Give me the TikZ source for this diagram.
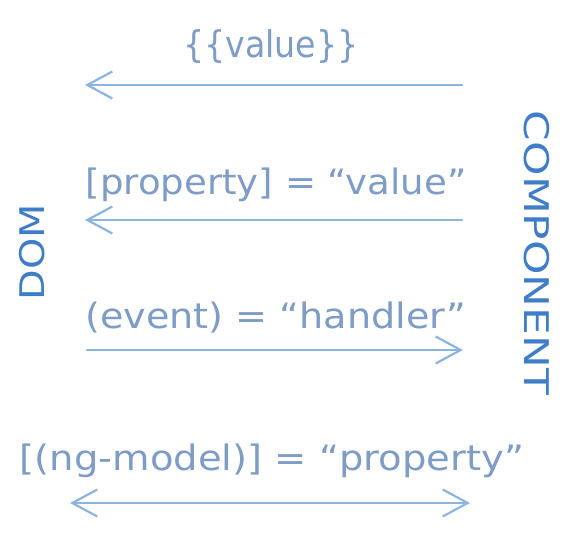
\documentclass[tikz,border=0pt]{standalone}
\usepackage{fontspec}
\setmainfont{DejaVu Sans}
\usetikzlibrary{arrows.meta}
\definecolor{txtblue}{HTML}{7E9CC6}
\definecolor{arrblue}{HTML}{8DB4E0}
\definecolor{lblblue}{HTML}{3F7DC8}
\tikzset{
  lbl/.style={text=txtblue, inner sep=0pt, font=\fontsize{35}{40}\selectfont},
  side/.style={text=lblblue, inner sep=0pt, font=\fontsize{34}{40}\selectfont},
  conn/.style={draw=arrblue, line width=2.2pt, line cap=round},
  barb/.tip={Straight Barb[length=25pt,width=27pt,line width=2.2pt]}
}
\begin{document}
\begin{tikzpicture}[x=1pt,y=-1pt]
\useasboundingbox[fill=white] (0,0) rectangle (563,533);
\node[lbl] (t1) at (271,47) {\scalebox{0.95}[1.05]{\{\{value\}\}}};
\node[lbl] (t2) at (276,185) {\scalebox{1.06}[1]{[property] = “value”}};
\node[lbl] (t3) at (276,318) {\scalebox{1.09}[1]{(event) = “handler”}};
\node[lbl] (t4) at (272,461) {\scalebox{1.10}[1]{[(ng-model)] = “property”}};
\node[side, rotate=90] (dom) at (32,252) {\scalebox{1.17}[1]{DOM}};
\node[side, rotate=-90] (comp) at (537,253) {\scalebox{1.29}[1]{COMPONENT}};
\coordinate (a1r) at (462,85); \coordinate (a1l) at (85,85);
\coordinate (a2r) at (462,220); \coordinate (a2l) at (85,220);
\coordinate (a3l) at (87,350); \coordinate (a3r) at (463,350);
\coordinate (a4l) at (70,503); \coordinate (a4r) at (470,503);
\draw[conn, -{barb}] (a1r) -- (a1l);
\draw[conn, -{barb}] (a2r) -- (a2l);
\draw[conn, -{barb}] (a3l) -- (a3r);
\draw[conn, {barb}-{barb}] (a4l) -- (a4r);
\end{tikzpicture}
\end{document}
